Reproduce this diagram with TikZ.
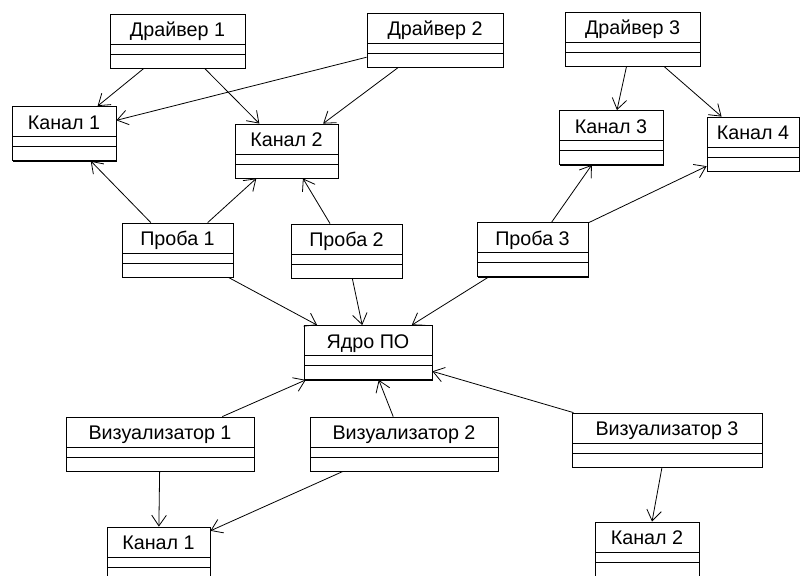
\documentclass[tikz,border=0pt]{standalone}
\usepackage{fontspec}
\setmainfont{Liberation Sans}
\usetikzlibrary{arrows.meta,shadows}

\begin{document}
\begin{tikzpicture}[x=0.75pt,y=-0.75pt,line width=0.6pt,
    cls/.style={draw,fill=white,inner xsep=0pt,inner ysep=0pt,
      text height=17pt,text depth=23.5pt,minimum width=#1*0.75pt,
      font=\fontsize{14.8}{17}\selectfont,
      drop shadow={shadow xshift=0.75pt,shadow yshift=-0.75pt,fill=black,opacity=1},
      path picture={
        \draw ([yshift=-22.5pt]path picture bounding box.north west)
           -- ([yshift=-22.5pt]path picture bounding box.north east);
        \draw ([yshift=-30pt]path picture bounding box.north west)
           -- ([yshift=-30pt]path picture bounding box.north east);}},
    dep/.style={-{Straight Barb[length=8pt,width=11pt]}}]
  \useasboundingbox (0,0) rectangle (800,575);
  % drivers
  \node[cls=135] (drv1) at (177.5,41) {Драйвер 1};
  \node[cls=136] (drv2) at (435,40) {Драйвер 2};
  \node[cls=135] (drv3) at (632.5,39) {Драйвер 3};
  % channels
  \node[cls=104] (kan1) at (64,133.5) {Канал 1};
  \node[cls=103] (kan2) at (286.5,151) {Канал 2};
  \node[cls=104] (kan3) at (611,137.5) {Канал 3};
  \node[cls=92]  (kan4) at (753,144) {Канал 4};
  % probes
  \node[cls=111] (prb1) at (177.5,250) {Проба 1};
  \node[cls=111] (prb2) at (346.5,251) {Проба 2};
  \node[cls=111] (prb3) at (532.5,249.5) {Проба 3};
  % core
  \node[cls=128] (core) at (368,352.5) {Ядро ПО};
  % visualizers
  \node[cls=188] (viz1) at (160,444) {Визуализатор 1};
  \node[cls=188] (viz2) at (404,444) {Визуализатор 2};
  \node[cls=190] (viz3) at (667,440) {Визуализатор 3};
  \node[cls=103] (kan1b) at (158.5,554) {Канал 1};
  \node[cls=104] (kan2b) at (647,549) {Канал 2};

  \draw[dep] (drv1) -- (kan1);
  \draw[dep] (drv1) -- (kan2);
  \draw[dep] (drv2) -- (kan1);
  \draw[dep] (drv2) -- (kan2);
  \draw[dep] (drv3) -- (kan3);
  \draw[dep] (drv3) -- (kan4);
  \draw[dep] (prb1) -- (kan1);
  \draw[dep] (prb1) -- (kan2);
  \draw[dep] (prb2) -- (kan2);
  \draw[dep] (prb3) -- (kan3);
  \draw[dep] (prb3) -- (kan4);
  \draw[dep] (prb1) -- (core);
  \draw[dep] (prb2) -- (core);
  \draw[dep] (prb3) -- (core);
  \draw[dep] (viz1) -- (core);
  \draw[dep] (viz2) -- (core);
  \draw[dep] (viz3) -- (core);
  \draw[dep] (viz1) -- (kan1b);
  \draw[dep] (viz2) -- (kan1b);
  \draw[dep] (viz3) -- (kan2b);
\end{tikzpicture}
\end{document}
